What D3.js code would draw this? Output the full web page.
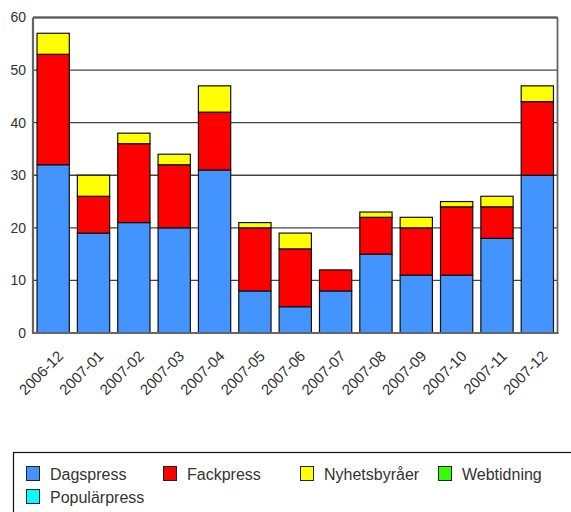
<!DOCTYPE html>
<html><head><meta charset="utf-8">
<script src="https://cdn.jsdelivr.net/npm/d3@7"></script>
<style>body{margin:0;background:#fff}svg{display:block}</style>
</head><body>
<svg id="c" width="571" height="512"></svg>
<script>
const months = ["2006-12","2007-01","2007-02","2007-03","2007-04","2007-05","2007-06","2007-07","2007-08","2007-09","2007-10","2007-11","2007-12"];
const seriesNames = ["Dagspress","Fackpress","Nyhetsbyråer","Webtidning","Populärpress"];
const seriesColors = ["#4494FF","#FF0000","#FFFF00","#33FF00","#00FFFF"];
const dagspress    = [32,19,21,20,31,8,5,8,15,11,11,18,30];
const fackpress    = [21,7,15,12,11,12,11,4,7,9,13,6,14];
const nyhetsbyraer = [4,4,2,2,5,1,3,0,1,2,1,2,3];
const webtidning   = [0,0,0,0,0,0,0,0,0,0,0,0,0];
const popularpress = [0,0,0,0,0,0,0,0,0,0,0,0,0];
const yTicks = [0,10,20,30,40,50,60];

const seriesVals = [dagspress,fackpress,nyhetsbyraer,webtidning,popularpress];
const table = months.map((m,i)=>{const o={month:m}; seriesNames.forEach((s,j)=>o[s]=seriesVals[j][i]); return o;});
const stacked = d3.stack().keys(seriesNames)(table);

const svg = d3.select("#c");
const L=33,R=557.5,T=17.5,B=333;
const x = d3.scaleBand().domain(months).range([L,R]).paddingInner(0.2).paddingOuter(0.1);
const y = d3.scaleLinear().domain([0,60]).range([B,T]);
const font = "'Liberation Sans', Arial, sans-serif";

// gridlines
svg.append("g").selectAll("line").data(yTicks.filter(t=>t>0)).join("line")
  .attr("x1",L).attr("x2",R).attr("y1",d=>y(d)).attr("y2",d=>y(d))
  .attr("stroke","#444").attr("stroke-width",1.3);

// bars
svg.append("g").selectAll("g").data(stacked).join("g")
  .attr("fill",(d,i)=>seriesColors[i])
  .selectAll("rect").data(d=>d.filter(v=>v[1]-v[0]>0)).join("rect")
  .attr("x",d=>x(d.data.month)).attr("width",x.bandwidth())
  .attr("y",d=>y(d[1])).attr("height",d=>y(d[0])-y(d[1]))
  .attr("stroke","#111").attr("stroke-width",1.2);

// frame
svg.append("line").attr("x1",R).attr("x2",R).attr("y1",T).attr("y2",B).attr("stroke","#666").attr("stroke-width",1.8);
svg.append("line").attr("x1",L).attr("x2",R).attr("y1",T).attr("y2",T).attr("stroke","#555").attr("stroke-width",1.8);
svg.append("line").attr("x1",L-1).attr("x2",R+1).attr("y1",B).attr("y2",B).attr("stroke","#666").attr("stroke-width",2.2);
svg.append("line").attr("x1",L).attr("x2",L).attr("y1",T).attr("y2",B+1).attr("stroke","#666").attr("stroke-width",2.2);

// y axis labels
const yAxis = d3.axisLeft(y).tickValues(yTicks).tickSize(0).tickPadding(7);
const ya = svg.append("g").attr("transform",`translate(${L},0)`).call(yAxis);
ya.select(".domain").remove();
ya.selectAll("text").attr("font-family",font).attr("font-size",14).attr("fill","#333");

// x axis labels
const xAxis = d3.axisBottom(x).tickSize(0).tickPadding(0);
const xa = svg.append("g").attr("transform",`translate(0,${B})`).call(xAxis);
xa.select(".domain").remove();
xa.selectAll("text").attr("font-family",font).attr("font-size",15).attr("fill","#333")
  .attr("text-anchor","end").attr("dy",null).attr("y",0)
  .attr("transform","translate(11,24) rotate(-45)");

// legend
const lg = svg.append("g");
lg.append("rect").attr("x",13.5).attr("y",452.5).attr("width",570).attr("height",70).attr("fill","#fff").attr("stroke","#111").attr("stroke-width",1.2);
const pos = [[26,466],[163,466],[300,466],[438,466],[26,489]];
seriesNames.forEach((s,i)=>{
  const [px,py]=pos[i];
  lg.append("rect").attr("x",px+0.5).attr("y",py+0.5).attr("width",13).attr("height",14).attr("fill",seriesColors[i]).attr("stroke","#222").attr("stroke-width",1);
  lg.append("text").attr("x",px+24).attr("y",py+13.5).attr("font-family",font).attr("font-size",16).attr("fill","#333").text(s);
});
</script>
</body></html>
